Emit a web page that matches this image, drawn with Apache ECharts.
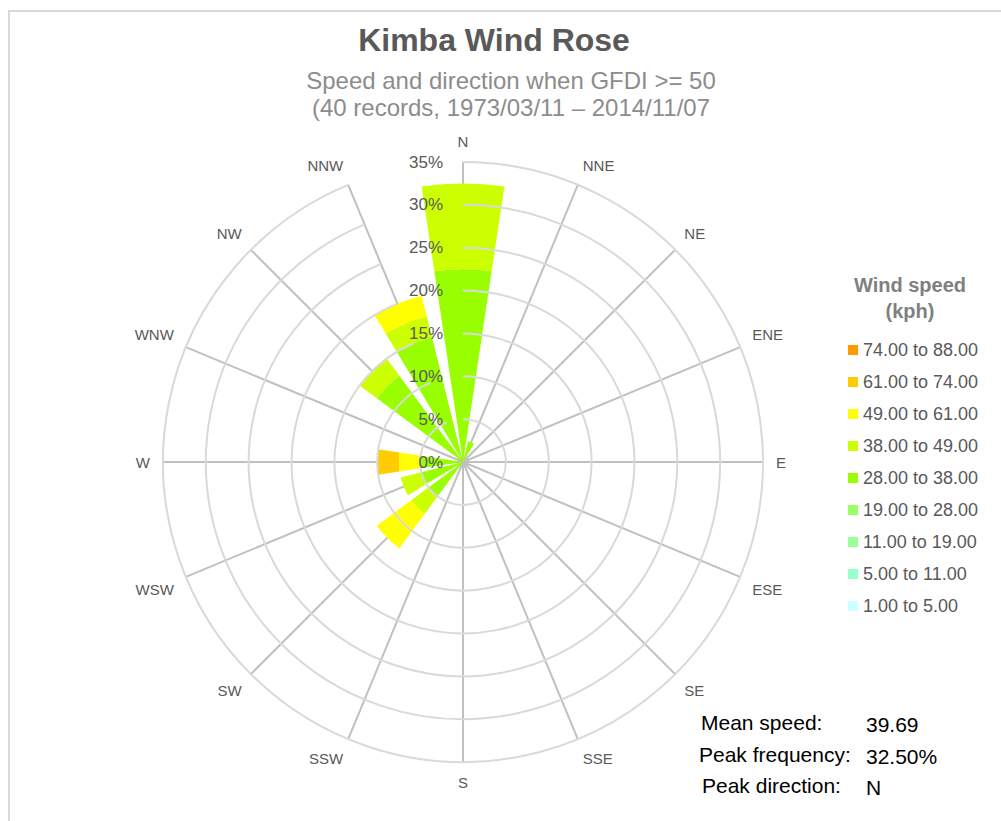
<!DOCTYPE html>
<html>
<head>
<meta charset="utf-8">
<script src="https://cdn.jsdelivr.net/npm/echarts@6/dist/echarts.min.js"></script>
<style>
html,body{margin:0;padding:0;background:#fff;}
#chart{width:1001px;height:821px;}
</style>
</head>
<body>
<div id="chart"></div>
<script>
// ---- data ----
var directions = ['N','NNE','NE','ENE','E','ESE','SE','SSE','S','SSW','SW','WSW','W','WNW','NW','NNW'];
var speedBins = ['1.00 to 5.00','5.00 to 11.00','11.00 to 19.00','19.00 to 28.00','28.00 to 38.00','38.00 to 49.00','49.00 to 61.00','61.00 to 74.00','74.00 to 88.00'];
var binColors = ['#ccffff','#99ffcc','#99ff99','#99ff66','#99ff00','#ccff00','#ffff00','#ffcc00','#ff9900'];
// frequency (%) per direction, N..NNW
var s1_5   = [0,0,0,0,0,0,0,0,0,0,0,0,0,0,0,0];
var s5_11  = [0,0,0,0,0,0,0,0,0,0,0,0,0,0,0,0];
var s11_19 = [0,0,0,0,0,0,0,0,0,0,0,0,0,0,0,0];
var s19_28 = [0,0,0,0,0,0,0,0,0,0,0,0,0,0,0,0];
var s28_38 = [22.5,2.5,0,0,0,0,0,0,0,0,5,5,5,0,12.5,15];
var s38_49 = [10,0,0,0,0,0,0,0,0,0,2.5,2.5,0,0,2.5,2.5];
var s49_61 = [0,0,0,0,0,0,0,0,0,0,5,0,2.5,0,0,2.5];
var s61_74 = [0,0,0,0,0,0,0,0,0,0,0,0,2.5,0,0,0];
var s74_88 = [0,0,0,0,0,0,0,0,0,0,0,0,0,0,0,0];
var binData = [s1_5,s5_11,s11_19,s19_28,s28_38,s38_49,s49_61,s61_74,s74_88];
var radiusTicks = [0,5,10,15,20,25,30,35];
var titleText = 'Kimba Wind Rose';
var subLine1 = 'Speed and direction when GFDI >= 50';
var subLine2 = '(40 records, 1973/03/11 \u2013 2014/11/07';
var statLabels = ['Mean speed:','Peak frequency:','Peak direction:'];
var statValues = ['39.69','32.50%','N'];

var FONT = '"Liberation Sans", Arial, sans-serif';

var series = speedBins.map(function(name, i){
  return {
    type:'bar', coordinateSystem:'polar', stack:'speed', name:name,
    data: binData[i], barWidth:'76%',
    itemStyle:{color:binColors[i]}, emphasis:{disabled:true}, animation:false
  };
});

var graphics = [
  {type:'rect', shape:{x:9,y:11,width:1200,height:1200}, style:{fill:'none',stroke:'#d9d9d9',lineWidth:2}, silent:true, z:-10},
  {type:'text', x:494, y:40, style:{text:titleText, font:'bold 32px '+FONT, fill:'#595959', textAlign:'center', textVerticalAlign:'middle'}},
  {type:'text', x:511, y:80, style:{text:subLine1, font:'24px '+FONT, fill:'#8c8c8c', textAlign:'center', textVerticalAlign:'middle'}},
  {type:'text', x:511, y:107, style:{text:subLine2, font:'24px '+FONT, fill:'#8c8c8c', textAlign:'center', textVerticalAlign:'middle'}},
  {type:'text', x:910, y:285, style:{text:'Wind speed', font:'bold 20px '+FONT, fill:'#808080', textAlign:'center', textVerticalAlign:'middle'}},
  {type:'text', x:910, y:311, style:{text:'(kph)', font:'bold 20px '+FONT, fill:'#808080', textAlign:'center', textVerticalAlign:'middle'}}
];
var statY = [722,754,785];
var statLX = [701,699,702];
for (var k=0;k<3;k++){
  graphics.push({type:'text', x:statLX[k], y:statY[k], style:{text:statLabels[k], font:'21px '+FONT, fill:'#000', textAlign:'left', textVerticalAlign:'middle'}});
  graphics.push({type:'text', x:866, y:statY[k]+2, style:{text:statValues[k], font:'21px '+FONT, fill:'#000', textAlign:'left', textVerticalAlign:'middle'}});
}

var chart = echarts.init(document.getElementById('chart'), null, {renderer:'svg'});
chart.setOption({
  backgroundColor:'#ffffff',
  animation:false,
  textStyle:{fontFamily:FONT},
  polar:{center:[463,462], radius:300},
  angleAxis:{
    type:'category', data:directions, boundaryGap:false, startAngle:90, clockwise:true,
    axisLine:{show:false}, axisTick:{show:false},
    axisLabel:{color:'#595959', fontSize:15, margin:13, align:'center', verticalAlign:'middle', fontFamily:FONT},
    splitLine:{show:true, lineStyle:{color:'#c0c0c0', width:2}},
    z:1
  },
  radiusAxis:{
    type:'value', min:0, max:35, interval:5,
    axisLine:{show:false}, axisTick:{show:false},
    axisLabel:{color:'#595959', fontSize:17, margin:20, fontFamily:FONT, formatter:function(v){return v+'%';}},
    splitLine:{show:true, lineStyle:{color:'#d9d9d9', width:2}},
    z:10
  },
  legend:{
    orient:'vertical', left:848, top:341, padding:0, itemWidth:10, itemHeight:10, itemGap:14,
    icon:'rect', data:speedBins.slice().reverse(),
    textStyle:{color:'#595959', fontSize:18, fontFamily:FONT},
    selectedMode:false
  },
  graphic:graphics,
  series:series
});
</script>
</body>
</html>
